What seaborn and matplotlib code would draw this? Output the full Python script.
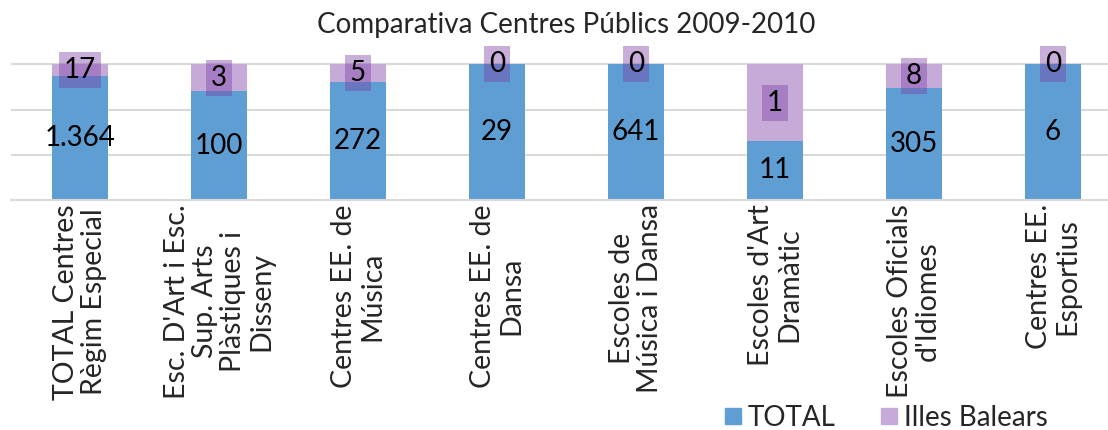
import numpy as np
import matplotlib
matplotlib.use("Agg")
import matplotlib.pyplot as plt
from matplotlib.lines import Line2D
import seaborn as sns

# data
categories = [
    "TOTAL Centres\nRègim Especial",
    "Esc. D'Art i Esc.\nSup. Arts\nPlàstiques i\nDisseny",
    "Centres EE. de\nMúsica",
    "Centres EE. de\nDansa",
    "Escoles de\nMúsica i Dansa",
    "Escoles d'Art\nDramàtic",
    "Escoles Oficials\nd'Idiomes",
    "Centres EE.\nEsportius",
]
total_share = [0.914, 0.80, 0.872, 1.0, 1.0, 0.435, 0.823, 1.0]
balears_share = [0.086, 0.20, 0.128, 0.0, 0.0, 0.565, 0.177, 0.0]
total_labels = ["1.364", "100", "272", "29", "641", "11", "305", "6"]
balears_labels = ["17", "3", "5", "0", "0", "1", "8", "0"]

blue = "#5F9ED3"
purple = "#C6ABD8"
box_color = "#7C3CA6"

sns.set_theme(style="white")
plt.rcParams["font.family"] = ["Lato", "DejaVu Sans"]

W, H = 1108, 430
fig = plt.figure(figsize=(W / 100, H / 100), dpi=100)
# plot area: x from 10.5px, 139px per category; y=0 at 200px, 1.0 at 64.3px
ax = fig.add_axes([10.5 / W, 1 - 200 / H, 1112 / W, 1.1 * 135.7 / H])

stack_top = np.add(total_share, balears_share)
sns.barplot(x=categories, y=stack_top, color=purple, saturation=1, width=0.4,
            linewidth=0, ax=ax)
sns.barplot(x=categories, y=total_share, color=blue, saturation=1, width=0.4,
            linewidth=0, ax=ax)

for i in range(len(categories)):
    ax.text(i, total_share[i] / 2, total_labels[i], ha="center", va="center",
            fontsize=20, color="black")
    ax.text(i, total_share[i] + balears_share[i] / 2, balears_labels[i],
            ha="center", va="center", fontsize=20, color="black",
            bbox=dict(boxstyle="square,pad=0.18", facecolor=box_color,
                      edgecolor="none", alpha=0.41))

ax.set_xlim(-0.5, 7.5)
ax.set_ylim(0, 1.1)
ax.set_yticks([1 / 3, 2 / 3, 1.0])
ax.set_yticklabels([])
ax.yaxis.grid(True, color="#D9D9D9", linewidth=1.5)
ax.set_axisbelow(True)
ax.tick_params(axis="y", length=0)
for s in ["top", "right", "left"]:
    ax.spines[s].set_visible(False)
ax.spines["bottom"].set_color("#D9D9D9")
ax.spines["bottom"].set_linewidth(1.5)

ax.set_xticks(range(len(categories)))
ax.set_xticklabels(categories, rotation=90, fontsize=20.5, ha="center", va="top",
                   multialignment="center", linespacing=1.1)
ax.tick_params(axis="x", which="major", length=0, pad=3)
ax.set_xticks([-0.5], minor=True)
ax.tick_params(axis="x", which="minor", length=7, width=1.5, color="#D9D9D9")
ax.set_xlabel("")
ax.set_ylabel("")

ax.text(0.5, 1.172, "Comparativa Centres Públics 2009-2010", transform=ax.transAxes,
        ha="center", va="center", fontsize=20)

handles = [
    Line2D([], [], marker="s", linestyle="none", markersize=12, color=blue, label="TOTAL"),
    Line2D([], [], marker="s", linestyle="none", markersize=12, color=purple, label="Illes Balears"),
]
fig.legend(handles=handles, loc="center", bbox_to_anchor=(886 / W, 1 - 418 / H), ncol=2,
           frameon=False, fontsize=20, handlelength=0.6, handletextpad=0.25,
           columnspacing=1.6, borderaxespad=0, borderpad=0)

fig.savefig("out.png", dpi=100)
